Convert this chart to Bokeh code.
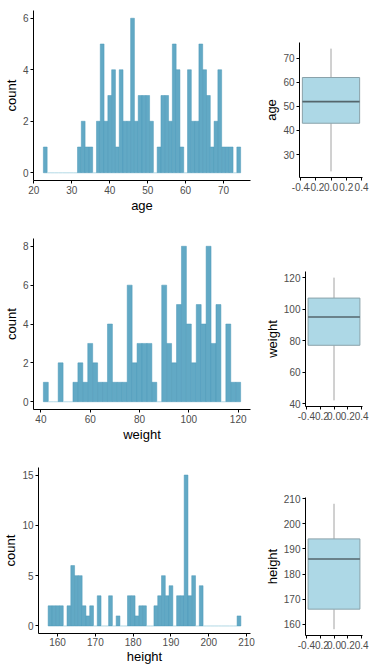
from bokeh.plotting import figure
from bokeh.models import Range1d, FixedTicker
from bokeh.layouts import column, row
from bokeh.embed import file_html
from bokeh.resources import INLINE

# ---------------- data ----------------
age_bins = [23, 24, 25, 26, 27, 28, 29, 30, 31, 32, 33, 34, 35, 36, 37, 38, 39, 40,
            41, 42, 43, 44, 45, 46, 47, 48, 49, 50, 51, 52, 53, 54, 55, 56, 57, 58,
            59, 60, 61, 62, 63, 64, 65, 66, 67, 68, 69, 70, 71, 72, 73, 74]
age_counts = [1, 0, 0, 0, 0, 0, 0, 0, 0, 1, 2, 1, 1, 0, 2, 5, 2, 3,
              4, 1, 4, 2, 2, 6, 2, 3, 3, 3, 2, 0, 1, 3, 3, 2, 5, 4,
              1, 0, 4, 2, 2, 5, 4, 3, 1, 2, 4, 1, 1, 1, 0, 1]
age_binwidth = 1

weight_bins = [42, 44, 46, 48, 50, 52, 54, 56, 58, 60, 62, 64, 66, 68, 70, 72, 74, 76, 78, 80,
               82, 84, 86, 88, 90, 92, 94, 96, 98, 100, 102, 104, 106, 108, 110, 112, 114, 116, 118, 120]
weight_counts = [1, 0, 0, 2, 0, 0, 1, 2, 1, 3, 2, 1, 1, 4, 1, 1, 1, 6, 2, 3,
                 3, 3, 1, 0, 6, 3, 2, 5, 8, 4, 2, 5, 4, 8, 3, 5, 0, 4, 1, 1]
weight_binwidth = 2

height_bins = [158, 159, 160, 161, 162, 163, 164, 165, 166, 167, 168, 169, 170, 171, 172, 173, 174,
               175, 176, 177, 178, 179, 180, 181, 182, 183, 184, 185, 186, 187, 188, 189, 190, 191,
               192, 193, 194, 195, 196, 197, 198, 199, 200, 201, 202, 203, 204, 205, 206, 207, 208]
height_counts = [2, 2, 2, 2, 0, 2, 6, 5, 5, 2, 1, 2, 0, 3, 0, 0, 3,
                 0, 1, 0, 0, 3, 3, 1, 2, 2, 0, 0, 2, 3, 5, 3, 4, 0,
                 3, 3, 15, 3, 5, 0, 4, 0, 0, 0, 0, 0, 0, 0, 0, 0, 1]
height_binwidth = 1

# boxplot stats: [whisker low, q1, median, q3, whisker high]
age_box = [23, 43, 52, 62, 74]
weight_box = [42, 77, 95, 107, 120]
height_box = [158, 166, 186, 194, 208]

age_hist_xticks = [20, 30, 40, 50, 60, 70]
age_hist_yticks = [0, 2, 4, 6]
weight_hist_xticks = [40, 60, 80, 100, 120]
weight_hist_yticks = [0, 2, 4, 6, 8]
height_hist_xticks = [160, 170, 180, 190, 200, 210]
height_hist_yticks = [0, 5, 10, 15]

age_box_yticks = [30, 40, 50, 60, 70]
weight_box_yticks = [40, 60, 80, 100, 120]
height_box_yticks = [160, 170, 180, 190, 200, 210]
box_xticks = [-0.4, -0.2, 0.0, 0.2, 0.4]
box_xtick_labels = ["-0.4", "-0.2", "0.0", "0.2", "0.4"]

FONT = "Liberation Sans"
HIST_FILL = "#62A9C5"
HIST_EDGE = "#4C99B9"
HIST_BASE = "#A9D4E3"


def style(p, label_standoff=1, tick_standoff=2):
    p.xgrid.visible = False
    p.ygrid.visible = False
    p.outline_line_color = None
    p.background_fill_color = "white"
    p.border_fill_color = "white"
    for ax in p.axis:
        ax.axis_line_color = "black"
        ax.axis_line_width = 1
        ax.major_tick_line_color = "black"
        ax.major_tick_out = 3
        ax.major_tick_in = 0
        ax.minor_tick_line_color = None
        ax.major_label_text_font = FONT
        ax.major_label_text_font_size = "10px"
        ax.major_label_text_color = "#4D4D4D"
        ax.major_label_standoff = tick_standoff
        ax.axis_label_text_font = FONT
        ax.axis_label_text_font_size = "13px"
        ax.axis_label_text_font_style = "normal"
        ax.axis_label_text_color = "black"
        ax.axis_label_standoff = label_standoff


def hist(bins, counts, bw, xlabel, xticks, yticks, height, btop, bbottom, tight=False):
    lefts = [b - bw / 2 for b in bins]
    rights = [b + bw / 2 for b in bins]
    xmin, xmax = min(lefts), max(rights)
    xpad = (xmax - xmin) * 0.05
    ymax = max(counts)
    p = figure(width=255, height=height, output_backend="svg", toolbar_location=None,
               x_range=Range1d(xmin - xpad, xmax + xpad),
               y_range=Range1d(-ymax * 0.05, ymax * 1.05),
               min_border_left=32, min_border_right=5,
               min_border_top=btop, min_border_bottom=bbottom,
               frame_align=False)
    edge_colors = [HIST_EDGE if c > 0 else HIST_BASE for c in counts]
    p.quad(left=lefts, right=rights, bottom=[0] * len(bins), top=counts,
           fill_color=HIST_FILL, line_color=edge_colors, line_width=0.5)
    p.xaxis.ticker = FixedTicker(ticks=xticks)
    p.yaxis.ticker = FixedTicker(ticks=yticks)
    p.xaxis.axis_label = xlabel
    p.yaxis.axis_label = "count"
    style(p)
    if tight:
        p.xaxis.axis_label_standoff = 0
        p.xaxis.major_label_standoff = 1
    return p


def boxp(stats, ylabel, yticks, height, btop, bbottom, bleft):
    lo, q1, med, q3, hi = stats
    pad = (hi - lo) * 0.05
    p = figure(width=114, height=height, output_backend="svg", toolbar_location=None,
               x_range=Range1d(-0.4125, 0.4125),
               y_range=Range1d(lo - pad, hi + pad),
               min_border_left=bleft, min_border_right=7,
               min_border_top=btop, min_border_bottom=bbottom,
               frame_align=False)
    p.segment(x0=[0, 0], y0=[lo, q3], x1=[0, 0], y1=[q1, hi],
              line_color="#8C8C8C", line_width=0.8)
    p.quad(left=[-0.375], right=[0.375], bottom=[q1], top=[q3],
           fill_color="#ADD8E6", line_color="#8AA2AA", line_width=1)
    p.segment(x0=[-0.375], y0=[med], x1=[0.375], y1=[med],
              line_color="#55666C", line_width=1.6)
    p.xaxis.ticker = FixedTicker(ticks=box_xticks)
    p.xaxis.major_label_overrides = dict(zip(box_xticks, box_xtick_labels))
    p.yaxis.ticker = FixedTicker(ticks=yticks)
    p.yaxis.axis_label = ylabel
    style(p)
    return p


h1 = hist(age_bins, age_counts, age_binwidth, "age", age_hist_xticks, age_hist_yticks, 215, 10, 35)
b1 = boxp(age_box, "age", age_box_yticks, 215, 42, 38, 44)
h2 = hist(weight_bins, weight_counts, weight_binwidth, "weight", weight_hist_xticks, weight_hist_yticks, 230, 23, 36)
b2 = boxp(weight_box, "weight", weight_box_yticks, 230, 56, 39, 50)
h3 = hist(height_bins, height_counts, height_binwidth, "height", height_hist_xticks, height_hist_yticks, 221, 22, 28, tight=True)
b3 = boxp(height_box, "height", height_box_yticks, 221, 52, 31, 50)

layout = column(row(h1, b1), row(h2, b2), row(h3, b3))

open("out.html", "w").write(file_html(layout, INLINE))
